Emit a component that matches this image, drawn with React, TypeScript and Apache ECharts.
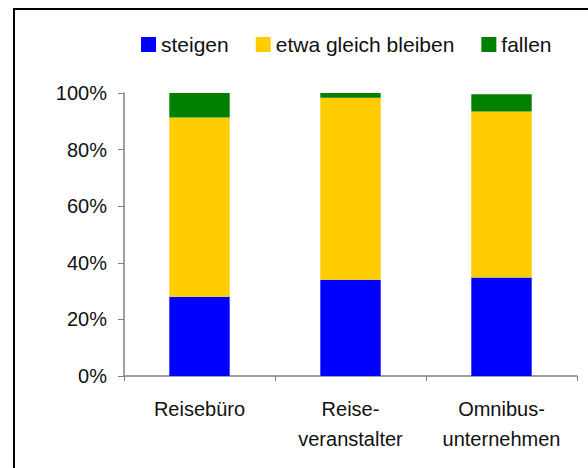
import React, { useEffect, useRef } from "react";
import * as echarts from "echarts";

const categories = ["Reisebüro", "Reise-\nveranstalter", "Omnibus-\nunternehmen"];
const seriesNames = ["steigen", "etwa gleich bleiben", "fallen"];
const steigen = [28, 34, 34.8];
const gleich = [63.3, 64.3, 58.7];
const fallen = [8.7, 1.7, 6.1];
const colors = ["#0000ff", "#ffcc00", "#008000"];

const FONT = "'Liberation Sans', Arial, sans-serif";

export default function App() {
  const ref = useRef<HTMLDivElement>(null);
  useEffect(() => {
    if (!ref.current) return;
    const chart = echarts.init(ref.current, null, { renderer: "svg" });
    const values = [steigen, gleich, fallen];
    chart.setOption({
      animation: false,
      backgroundColor: "#ffffff",
      textStyle: { fontFamily: FONT },
      graphic: [
        {
          type: "rect",
          shape: { x: 14, y: 9, width: 700, height: 600 },
          style: { fill: "none", stroke: "#000", lineWidth: 2 },
          silent: true,
        },
      ],
      legend: {
        left: 141,
        top: 34,
        padding: 0,
        itemWidth: 15,
        itemHeight: 15,
        itemGap: 27,
        icon: "rect",
        textStyle: { fontFamily: FONT, fontSize: 21, color: "#111" },
        data: seriesNames,
      },
      grid: { left: 124, right: 11, top: 93, bottom: 92, containLabel: false },
      xAxis: {
        type: "category",
        data: categories,
        axisLine: { lineStyle: { color: "#808080", width: 1.5 } },
        axisTick: { show: true, length: 5, alignWithLabel: false, lineStyle: { color: "#808080" } },
        axisLabel: {
          fontFamily: FONT,
          fontSize: 20,
          color: "#111",
          margin: 18,
          lineHeight: 30,
          interval: 0,
        },
      },
      yAxis: {
        type: "value",
        min: 0,
        max: 100,
        interval: 20,
        splitLine: { show: false },
        axisLine: { show: true, lineStyle: { color: "#808080", width: 1.5 } },
        axisTick: { show: true, length: 6, lineStyle: { color: "#808080" } },
        axisLabel: {
          fontFamily: FONT,
          fontSize: 20,
          color: "#111",
          margin: 17,
          formatter: "{value}%",
        },
      },
      series: seriesNames.map((name, i) => ({
        name,
        type: "bar",
        stack: "total",
        barWidth: "40%",
        data: values[i],
        itemStyle: { color: colors[i] },
      })),
    });
    return () => chart.dispose();
  }, []);
  return (
    <div
      ref={ref}
      style={{ position: "fixed", left: 0, top: 0, width: 588, height: 468 }}
    />
  );
}
